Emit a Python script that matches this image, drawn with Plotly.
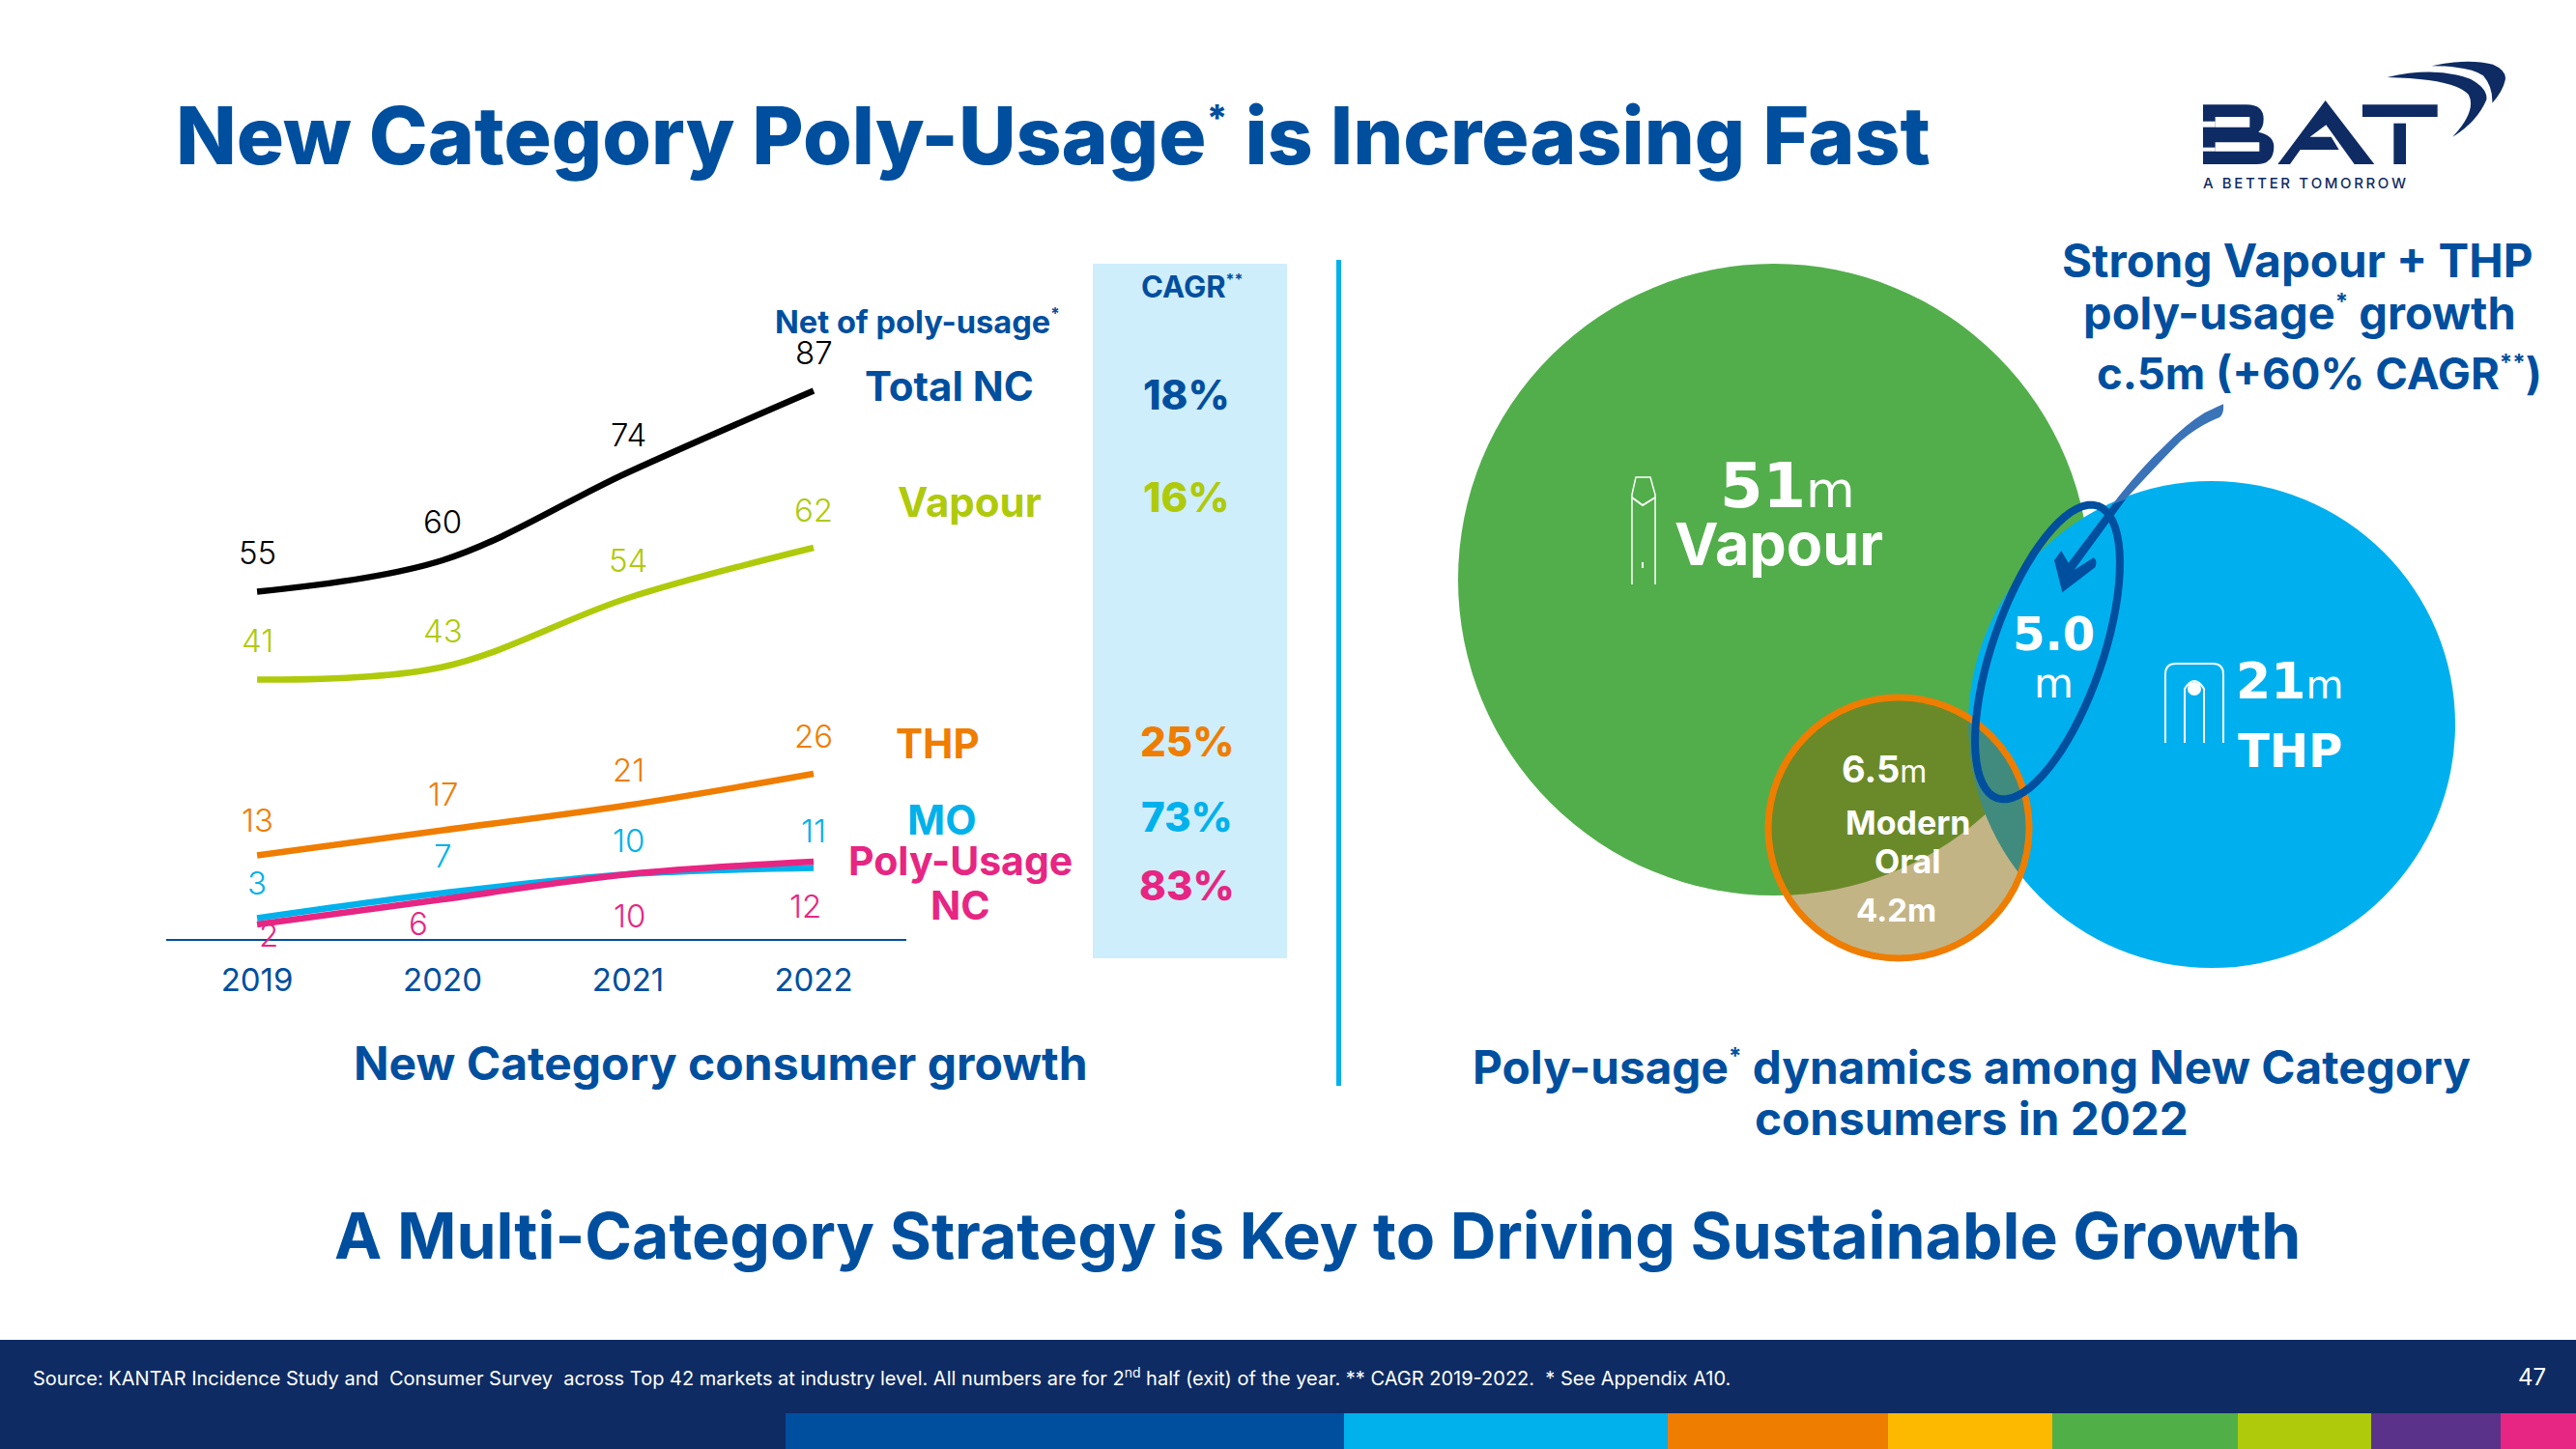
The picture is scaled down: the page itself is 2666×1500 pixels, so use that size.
import math
import plotly.graph_objects as go

W, H = 2666, 1500
NAVY = "#0E2B63"; BLUE = "#004F9F"; CYAN = "#00B1EB"; ORANGE = "#EF7D00"
YELLOW = "#FDB900"; GREEN = "#50AF47"; LIME = "#AFCA0B"; PURPLE = "#5A328A"; PINK = "#E72582"
SANS = "Inter"; WIDE = "DejaVu Sans"

# ------- data -------
years = ["2019", "2020", "2021", "2022"]
total_nc = [55, 60, 74, 87]
vapour = [41, 43, 54, 62]
thp = [13, 17, 21, 26]
mo = [3, 7, 10, 11]
poly_usage = [2, 6, 10, 12]
cagr_labels = ["18%", "16%", "25%", "73%", "83%"]
venn_vapour = "51"
venn_thp = "21"
venn_overlap = "5.0"
venn_mo_vapour = "6.5"
venn_mo_only = "4.2"
page_number = "47"

def px(x): return x / W
def py(y): return 1 - y / H

fig = go.Figure()

# label offsets relative to the point, in screen pixels (up positive)
series = [
    ("Total NC", total_nc, "#000000", [41, 40, 39, 40], [0, 0, 0, 0]),
    ("Vapour", vapour, LIME, [41, 38, 39, 39], [0, 0, 0, 0]),
    ("THP", thp, ORANGE, [37, 38, 37, 39], [0, 0, 0, 0]),
    ("MO", mo, CYAN, [37, 39, 35, 39], [0, 0, 0, 0]),
    ("Poly-Usage NC", poly_usage, PINK, [-11, -25, -43, -46], [12, -25, 1, -9]),
]
annotations = []
for name, vals, col, ups, xs in series:
    fig.add_trace(go.Scatter(x=years, y=vals, mode="lines", name=name, showlegend=False,
                             line=dict(color=col, width=6.5, shape="spline", smoothing=1.0)))
    for i, (v, u, dx) in enumerate(zip(vals, ups, xs)):
        annotations.append(dict(x=i, y=v, xref="x", yref="y", text=str(v), showarrow=False,
                                yshift=u, xshift=dx, xanchor="center", yanchor="middle",
                                font=dict(family=SANS, size=33, color=col, weight=300)))

def txt(x, y, s, size, color=BLUE, weight=700, anchor="center", family=SANS):
    annotations.append(dict(x=px(x), y=py(y), xref="paper", yref="paper", text=s, showarrow=False,
                            xanchor=anchor, yanchor="middle", align=anchor if anchor != "center" else "center",
                            font=dict(family=family, size=size, color=color, weight=weight)))

S = lambda t: f"<sup>{t}</sup>"
M = lambda size: f'<span style="font-size:{size}px;font-weight:400">m</span>'
STAR = lambda n, s: f'<sup><span style="font-size:{s}px">{"*" * n}</span></sup>'

txt(180, 141, "New Category Poly-Usage" + STAR(1, 38) + " is Increasing Fast", 82, anchor="left", weight=800)
txt(746, 1100, "New Category consumer growth", 48)
txt(2040, 1105, "Poly-usage" + STAR(1, 24) + " dynamics among New Category", 47.7)
txt(2040, 1158, "consumers in 2022", 47.7)
txt(1363, 1279, "A Multi-Category Strategy is Key to Driving Sustainable Growth", 66)
txt(2378, 270, "Strong Vapour + THP", 47.5)
txt(2380, 323, "poly-usage" + STAR(1, 24) + " growth", 47)
txt(2400, 386, "c.5m (+60% CAGR" + STAR(2, 24) + ")", 45.5)

txt(949, 333, "Net of poly-usage" + STAR(1, 17), 32.6)
txt(982, 400, "Total NC", 42)
txt(1003, 519, "Vapour", 42, color=LIME)
txt(970, 769, "THP", 42, color=ORANGE)
txt(975, 848, "MO", 42, color=CYAN)
txt(994, 891, "Poly-Usage", 41, color=PINK)
txt(994, 937, "NC", 41, color=PINK)

txt(1233, 296, "CAGR" + STAR(2, 16), 31)
for lab, y, col in zip(cagr_labels, [408, 515, 767, 845, 916], [BLUE, LIME, ORANGE, CYAN, PINK]):
    txt(1228, y, lab, 42, color=col, weight=800)

txt(1850, 503, venn_vapour + M(52), 64, color="white", family=WIDE)
txt(1841, 563, "Vapour", 61, color="white")
txt(2125, 656, venn_overlap, 48, color="white", family=WIDE)
txt(2125, 707, "m", 42, color="white", weight=400, family=WIDE)
txt(2369, 705, venn_thp + M(40), 52, color="white", family=WIDE)
txt(2370, 777, "THP", 48, color="white", family=WIDE)
txt(1950, 796, venn_mo_vapour + M(32), 38, color="white")
txt(1974, 852, "Modern", 34, color="white")
txt(1974, 891, "Oral", 34, color="white")
txt(1962, 942, venn_mo_only + "m", 33, color="white")

txt(32, 1425, "Source: KANTAR Incidence Study and  Consumer Survey  across Top 42 markets at industry level. "
    "All numbers are for 2" + S("nd") + " half (exit) of the year. ** CAGR 2019-2022.  * See Appendix A10.",
    20, color="white", weight=400, anchor="left")
txt(2620, 1425, page_number, 24, color="white", weight=400)
txt(2385, 189, "\u2009".join("A BETTER TOMORROW"), 15, color=NAVY, weight=500)

# ------- decoration shapes -------
shapes = []
def rect(x0, y0, x1, y1, color):
    shapes.append(dict(type="rect", xref="paper", yref="paper", x0=px(x0), x1=px(x1), y0=py(y0), y1=py(y1),
                       fillcolor=color, line=dict(width=0), layer="below"))
def circle(cx, cy, r, color, line=None, lw=0):
    shapes.append(dict(type="circle", xref="paper", yref="paper", x0=px(cx - r), x1=px(cx + r),
                       y0=py(cy + r), y1=py(cy - r), fillcolor=color,
                       line=dict(color=line, width=lw) if lw else dict(width=0), layer="below"))
def path(cmds, fill=None, line=None, lw=0):
    out = []
    for c in cmds:
        if isinstance(c, str):
            out.append(c)
        else:
            out.append(f"{px(c[0]):.5f},{py(c[1]):.5f}")
    s = dict(type="path", xref="paper", yref="paper", path=" ".join(out), layer="below",
             line=dict(color=line, width=lw) if lw else dict(width=0))
    if fill: s["fillcolor"] = fill
    shapes.append(s)

rect(1131, 273, 1332, 992, "#CEEEFB")
rect(1383, 269, 1388, 1124, CYAN)
rect(0, 1387, W, H, NAVY)
for x0, x1, c in [(813, 1391, BLUE), (1391, 1726, CYAN), (1726, 1954, ORANGE), (1954, 2124, YELLOW),
                  (2124, 2316, GREEN), (2316, 2454, LIME), (2454, 2588, PURPLE), (2588, 2666, PINK)]:
    rect(x0, 1463, x1, H, c)

circle(1836, 600, 327, "#52AE4B")
circle(2289, 750, 252, "#00B0EE")
circle(1965, 857, 135, "rgba(131,101,6,0.486)", ORANGE, 7)

# call-out arrow, coordinates taken in a 3x view of its box
def Z(x, y): return (2100 + x / 3, 400 + y / 3)
path(["M", Z(603, 55), "Q", Z(606, 85), Z(590, 97), "Q", Z(530, 120), Z(470, 170), "Q", Z(400, 240), Z(300, 350),
      "L", Z(260, 365), "Q", Z(340, 260), Z(420, 185), "Q", Z(490, 115), Z(545, 82), "Q", Z(580, 65), Z(603, 55), "Z"],
     fill="#3A73B7")
path(["M", Z(300, 350), "L", Z(140, 570), "L", Z(200, 532), "Q", Z(214, 540), Z(205, 562), "L", Z(103, 640),
      "L", Z(78, 540), "L", Z(100, 510), "L", Z(122, 548), "L", Z(260, 365), "Z"], fill=BLUE)

# rotated ellipse round the overlap
a, b, th = 160, 57, math.radians(19)
pts = []
for k in range(73):
    t = 2 * math.pi * k / 72
    u, v = a * math.cos(t), b * math.sin(t)
    pts.append((2119 + u * math.sin(th) + v * math.cos(th), 675 - u * math.cos(th) + v * math.sin(th)))
cmds = []
for i, p in enumerate(pts):
    cmds += ["M" if i == 0 else "L", p]
path(cmds + ["Z"], line=BLUE, lw=8)

# icons
path(["M", (1689, 605), "L", (1689, 512), "L", (1693, 494), "L", (1708, 494), "L", (1713, 512), "L", (1713, 605)],
     line="white", lw=1.5)
path(["M", (1689, 515), "L", (1700, 523), "L", (1713, 515)], line="white", lw=2)
path(["M", (1700, 582), "L", (1700, 588)], line="white", lw=2)
path(["M", (2241, 769), "L", (2241, 698), "Q", (2241, 687), (2252, 687), "L", (2290, 687),
      "Q", (2301, 687), (2301, 698), "L", (2301, 769)], line="white", lw=2)
path(["M", (2261, 769), "L", (2261, 713), "Q", (2271, 697), (2281, 713), "L", (2281, 769)], line="white", lw=2)
circle(2271, 713, 7, "white")

# logo, coordinates taken in a 3x view of its box
def L(x, y): return (2220 + x / 3, 40 + y / 3)
def LR(x0, y0, x1, y1, fill):
    path(["M", L(x0, y0), "L", L(x1, y0), "L", L(x1, y1), "L", L(x0, y1), "Z"], fill=fill)
path(["M", L(180, 205), "L", L(315, 205), "Q", L(368, 205), L(368, 250), "Q", L(368, 278), L(352, 290),
      "Q", L(400, 300), L(400, 335), "Q", L(400, 390), L(345, 390), "L", L(180, 390), "Z"], fill=NAVY)
LR(218, 243, 325, 275, "white"); LR(178, 257, 218, 275, "white")
LR(218, 322, 355, 350, "white"); LR(178, 338, 218, 350, "white")
path(["M", L(412, 390), "L", L(560, 192), "L", L(712, 390), "L", L(650, 390), "L", L(562, 268), "L", L(512, 305),
      "L", L(578, 305), "L", L(602, 345), "L", L(482, 345), "L", L(450, 390), "Z"], fill=NAVY)
LR(675, 205, 908, 243, NAVY)
LR(772, 263, 810, 390, NAVY)
path(["M", L(752, 120), "Q", L(900, 85), L(1010, 125), "Q", L(1065, 155), L(1060, 190),
      "Q", L(1030, 260), L(955, 305), "Q", L(1030, 225), L(1005, 175), "Q", L(965, 125), L(752, 120), "Z"], fill=NAVY)
path(["M", L(890, 85), "Q", L(1000, 60), L(1080, 80), "Q", L(1125, 100), L(1118, 130),
      "Q", L(1110, 165), L(1078, 200), "Q", L(1080, 150), L(1050, 115), "Q", L(1010, 85), L(890, 85), "Z"], fill=NAVY)

# ------- axes: 0 sits at y=970 px, 6.5 px per unit -------
top_px, bot_px = 380, 972
fig.update_layout(
    width=W, height=H, autosize=False, margin=dict(l=0, r=0, t=0, b=0, pad=0),
    paper_bgcolor="white", plot_bgcolor="rgba(0,0,0,0)", showlegend=False,
    shapes=shapes, annotations=annotations,
    xaxis=dict(type="category", domain=[px(172), px(938)], range=[-0.49, 3.5], showgrid=False, zeroline=False,
               showline=True, linecolor=BLUE, linewidth=2, ticks="", ticklabelstandoff=12,
               tickfont=dict(family=SANS, size=33, color=BLUE, weight=400), fixedrange=True),
    yaxis=dict(domain=[py(bot_px), py(top_px)], range=[(970 - bot_px) / 6.5, (970 - top_px) / 6.5],
               visible=False, fixedrange=True),
)
fig.write_html("out.html", config={"displayModeBar": False},
               post_script="document.body.style.margin='0';document.body.style.overflow='hidden';")
